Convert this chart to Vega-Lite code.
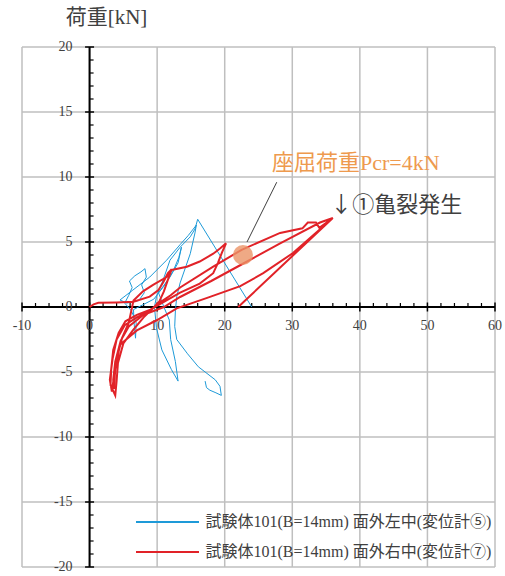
{
  "$schema": "https://vega.github.io/schema/vega-lite/v6.json",
  "width": 473,
  "height": 520,
  "autosize": "none",
  "padding": {"left": 22, "top": 47, "right": 10, "bottom": 9},
  "title": {
    "text": "荷重[kN]",
    "anchor": "start",
    "dx": 53,
    "offset": 12,
    "fontSize": 21,
    "fontWeight": "normal",
    "font": "Liberation Serif, Noto Sans CJK JP",
    "color": "#404040"
  },
  "config": {
    "view": {"stroke": null},
    "font": "Liberation Serif, Noto Sans CJK JP",
    "legend": {
      "orient": "none",
      "legendX": 129.5,
      "legendY": 459,
      "direction": "vertical",
      "symbolType": "M-2.1,0H2.1",
      "symbolSize": 900,
      "symbolStrokeWidth": 2,
      "symbolFillColor": "transparent",
      "labelFontSize": 16,
      "labelFont": "Liberation Serif, Noto Sans CJK JP",
      "labelColor": "#404040",
      "labelLimit": 0,
      "labelOffset": 22,
      "rowPadding": 6,
      "padding": 0
    }
  },
  "datasets": {
    "gauge5": [
      {"i": 1, "x": 24.0, "y": 0.0}, {"i": 2, "x": 16.0, "y": 6.75}, {"i": 3, "x": 15.6, "y": 6.0},
      {"i": 4, "x": 14.9, "y": 5.4}, {"i": 5, "x": 13.4, "y": 4.6}, {"i": 6, "x": 11.9, "y": 3.6},
      {"i": 7, "x": 10.9, "y": 2.1}, {"i": 8, "x": 9.9, "y": 0.8}, {"i": 9, "x": 9.6, "y": 0.0},
      {"i": 10, "x": 9.9, "y": -1.6}, {"i": 11, "x": 10.7, "y": -3.3}, {"i": 12, "x": 12.1, "y": -4.8},
      {"i": 13, "x": 13.1, "y": -5.7}, {"i": 14, "x": 12.7, "y": -4.2}, {"i": 15, "x": 12.0, "y": -2.5},
      {"i": 16, "x": 11.8, "y": -1.0}, {"i": 17, "x": 11.0, "y": 0.0}, {"i": 18, "x": 10.2, "y": 1.1},
      {"i": 19, "x": 11.9, "y": 2.3}, {"i": 20, "x": 13.1, "y": 3.4}, {"i": 21, "x": 13.6, "y": 4.6},
      {"i": 22, "x": 13.2, "y": 3.8}, {"i": 23, "x": 12.4, "y": 2.8}, {"i": 24, "x": 11.0, "y": 1.6},
      {"i": 25, "x": 9.5, "y": 0.6}, {"i": 26, "x": 8.0, "y": 0.2}, {"i": 27, "x": 6.5, "y": -0.2},
      {"i": 28, "x": 6.6, "y": -1.3}, {"i": 29, "x": 6.8, "y": -2.4}, {"i": 30, "x": 6.9, "y": -1.2},
      {"i": 31, "x": 6.2, "y": -0.3}, {"i": 32, "x": 5.2, "y": 0.3}, {"i": 33, "x": 5.8, "y": 0.9},
      {"i": 34, "x": 6.3, "y": 1.5}, {"i": 35, "x": 5.9, "y": 2.0}, {"i": 36, "x": 6.7, "y": 2.4},
      {"i": 37, "x": 7.6, "y": 2.7}, {"i": 38, "x": 8.2, "y": 2.95}, {"i": 39, "x": 8.4, "y": 2.3},
      {"i": 40, "x": 7.7, "y": 1.7}, {"i": 41, "x": 8.1, "y": 1.1}, {"i": 42, "x": 7.3, "y": 0.5},
      {"i": 43, "x": 5.5, "y": 0.3}, {"i": 44, "x": 4.5, "y": 0.54}, {"i": 45, "x": 6.4, "y": 1.3},
      {"i": 46, "x": 8.9, "y": 2.3}, {"i": 47, "x": 11.4, "y": 3.6}, {"i": 48, "x": 13.4, "y": 4.8},
      {"i": 49, "x": 14.6, "y": 5.5}, {"i": 50, "x": 15.8, "y": 6.3}, {"i": 51, "x": 15.6, "y": 5.7},
      {"i": 52, "x": 14.9, "y": 4.1}, {"i": 53, "x": 13.4, "y": 1.85}, {"i": 54, "x": 12.9, "y": 0.8},
      {"i": 55, "x": 12.7, "y": -0.3}, {"i": 56, "x": 12.6, "y": -1.5}, {"i": 57, "x": 12.9, "y": -2.5},
      {"i": 58, "x": 14.5, "y": -3.6}, {"i": 59, "x": 16.1, "y": -4.6}, {"i": 60, "x": 18.6, "y": -5.6},
      {"i": 61, "x": 19.3, "y": -6.1}, {"i": 62, "x": 19.5, "y": -6.8}, {"i": 63, "x": 18.7, "y": -6.6},
      {"i": 64, "x": 17.8, "y": -6.4}, {"i": 65, "x": 17.3, "y": -6.2}, {"i": 66, "x": 17.1, "y": -5.7}
    ],
    "gauge7": [
      {"i": 1, "x": 0.0, "y": 0.0}, {"i": 2, "x": 0.6, "y": 0.2}, {"i": 3, "x": 1.3, "y": 0.32},
      {"i": 4, "x": 4.0, "y": 0.35}, {"i": 5, "x": 6.5, "y": 0.4}, {"i": 6, "x": 8.9, "y": 0.8},
      {"i": 7, "x": 10.2, "y": 1.3}, {"i": 8, "x": 10.9, "y": 1.9}, {"i": 9, "x": 11.6, "y": 2.6},
      {"i": 10, "x": 12.15, "y": 2.9}, {"i": 11, "x": 11.6, "y": 2.1}, {"i": 12, "x": 11.0, "y": 1.2},
      {"i": 13, "x": 10.3, "y": 0.4}, {"i": 14, "x": 9.0, "y": -0.3}, {"i": 15, "x": 7.0, "y": -0.8},
      {"i": 16, "x": 5.2, "y": -1.4}, {"i": 17, "x": 4.0, "y": -2.5}, {"i": 18, "x": 3.4, "y": -4.0},
      {"i": 19, "x": 3.0, "y": -5.6}, {"i": 20, "x": 3.3, "y": -6.5}, {"i": 21, "x": 3.6, "y": -5.4},
      {"i": 22, "x": 4.0, "y": -4.0}, {"i": 23, "x": 4.8, "y": -2.4}, {"i": 24, "x": 5.8, "y": -1.2},
      {"i": 25, "x": 6.5, "y": 0.5}, {"i": 26, "x": 7.9, "y": 1.2}, {"i": 27, "x": 9.4, "y": 1.7},
      {"i": 28, "x": 11.4, "y": 2.3}, {"i": 29, "x": 12.15, "y": 2.85}, {"i": 30, "x": 14.4, "y": 3.1},
      {"i": 31, "x": 16.3, "y": 3.5}, {"i": 32, "x": 18.3, "y": 4.1}, {"i": 33, "x": 19.3, "y": 4.5},
      {"i": 34, "x": 20.2, "y": 4.9}, {"i": 35, "x": 19.6, "y": 4.2}, {"i": 36, "x": 19.0, "y": 3.4},
      {"i": 37, "x": 18.3, "y": 2.6}, {"i": 38, "x": 16.3, "y": 1.8}, {"i": 39, "x": 13.4, "y": 1.1},
      {"i": 40, "x": 11.0, "y": 0.4}, {"i": 41, "x": 9.0, "y": -0.2}, {"i": 42, "x": 7.0, "y": -0.6},
      {"i": 43, "x": 5.3, "y": -1.1}, {"i": 44, "x": 4.3, "y": -2.0}, {"i": 45, "x": 3.5, "y": -3.3},
      {"i": 46, "x": 3.2, "y": -4.8}, {"i": 47, "x": 3.1, "y": -6.0}, {"i": 48, "x": 3.8, "y": -6.8},
      {"i": 49, "x": 4.0, "y": -5.7}, {"i": 50, "x": 4.2, "y": -4.3}, {"i": 51, "x": 5.0, "y": -2.8},
      {"i": 52, "x": 6.4, "y": -1.8}, {"i": 53, "x": 8.0, "y": -0.8}, {"i": 54, "x": 10.0, "y": 0.2},
      {"i": 55, "x": 12.0, "y": 0.9}, {"i": 56, "x": 13.4, "y": 1.5}, {"i": 57, "x": 18.3, "y": 3.1},
      {"i": 58, "x": 22.5, "y": 4.4}, {"i": 59, "x": 28.2, "y": 5.7}, {"i": 60, "x": 31.5, "y": 6.05},
      {"i": 61, "x": 32.3, "y": 6.5}, {"i": 62, "x": 33.5, "y": 6.5}, {"i": 63, "x": 34.0, "y": 6.1},
      {"i": 64, "x": 36.0, "y": 6.85}, {"i": 65, "x": 34.1, "y": 6.5}, {"i": 66, "x": 28.2, "y": 4.9},
      {"i": 67, "x": 23.3, "y": 3.5}, {"i": 68, "x": 18.0, "y": 2.0}, {"i": 69, "x": 13.4, "y": 0.77},
      {"i": 70, "x": 11.0, "y": 0.0}, {"i": 71, "x": 8.0, "y": -0.6}, {"i": 72, "x": 5.8, "y": -1.5},
      {"i": 73, "x": 4.6, "y": -2.6}, {"i": 74, "x": 3.8, "y": -4.2}, {"i": 75, "x": 3.5, "y": -5.6},
      {"i": 76, "x": 3.6, "y": -6.3}, {"i": 77, "x": 3.8, "y": -4.8}, {"i": 78, "x": 4.5, "y": -2.9},
      {"i": 79, "x": 7.0, "y": -1.8}, {"i": 80, "x": 10.0, "y": -1.0}, {"i": 81, "x": 12.9, "y": -0.1},
      {"i": 82, "x": 17.4, "y": 0.7}, {"i": 83, "x": 22.3, "y": 1.6}, {"i": 84, "x": 25.7, "y": 2.6},
      {"i": 85, "x": 30.1, "y": 4.15}, {"i": 86, "x": 36.0, "y": 6.85}, {"i": 87, "x": 22.0, "y": 0.0}
    ],
    "xMajor": [{"v": -10}, {"v": 0}, {"v": 10}, {"v": 20}, {"v": 30}, {"v": 40}, {"v": 50}, {"v": 60}],
    "xMinor": [
      {"v": -8}, {"v": -6}, {"v": -4}, {"v": -2}, {"v": 2}, {"v": 4}, {"v": 6}, {"v": 8},
      {"v": 12}, {"v": 14}, {"v": 16}, {"v": 18}, {"v": 22}, {"v": 24}, {"v": 26}, {"v": 28},
      {"v": 32}, {"v": 34}, {"v": 36}, {"v": 38}, {"v": 42}, {"v": 44}, {"v": 46}, {"v": 48},
      {"v": 52}, {"v": 54}, {"v": 56}, {"v": 58}
    ],
    "yMajor": [{"v": -20}, {"v": -15}, {"v": -10}, {"v": -5}, {"v": 0}, {"v": 5}, {"v": 10}, {"v": 15}, {"v": 20}],
    "yMinor": [
      {"v": -19}, {"v": -18}, {"v": -17}, {"v": -16}, {"v": -14}, {"v": -13}, {"v": -12}, {"v": -11},
      {"v": -9}, {"v": -8}, {"v": -7}, {"v": -6}, {"v": -4}, {"v": -3}, {"v": -2}, {"v": -1},
      {"v": 1}, {"v": 2}, {"v": 3}, {"v": 4}, {"v": 6}, {"v": 7}, {"v": 8}, {"v": 9},
      {"v": 11}, {"v": 12}, {"v": 13}, {"v": 14}, {"v": 16}, {"v": 17}, {"v": 18}, {"v": 19}
    ],
    "buckling": [{"x": 22.7, "y": 4.0}]
  },
  "layer": [
    {
      "data": {"name": "xMajor"},
      "mark": {"type": "rule", "color": "#BFBFBF", "strokeWidth": 1.5},
      "encoding": {
        "x": {"field": "v", "type": "quantitative", "scale": {"domain": [-10, 60], "nice": false, "zero": false}, "axis": null}
      }
    },
    {
      "data": {"name": "yMajor"},
      "mark": {"type": "rule", "color": "#BFBFBF", "strokeWidth": 1.5},
      "encoding": {
        "y": {"field": "v", "type": "quantitative", "scale": {"domain": [-20, 20], "nice": false, "zero": false}, "axis": null}
      }
    },
    {
      "data": {"values": [{}]},
      "mark": {"type": "rule", "color": "#000000", "strokeWidth": 2},
      "encoding": {"x": {"datum": 0, "type": "quantitative"}}
    },
    {
      "data": {"values": [{}]},
      "mark": {"type": "rule", "color": "#000000", "strokeWidth": 2},
      "encoding": {"y": {"datum": 0, "type": "quantitative"}}
    },
    {
      "data": {"name": "xMajor"},
      "mark": {"type": "rule", "color": "#000000", "strokeWidth": 1.5, "yOffset": -4.5, "y2Offset": 4.5},
      "encoding": {
        "x": {"field": "v", "type": "quantitative"},
        "y": {"datum": 0, "type": "quantitative"},
        "y2": {"datum": 0}
      }
    },
    {
      "data": {"name": "xMinor"},
      "mark": {"type": "rule", "color": "#000000", "strokeWidth": 1.2, "yOffset": -4, "y2Offset": 0},
      "encoding": {
        "x": {"field": "v", "type": "quantitative"},
        "y": {"datum": 0, "type": "quantitative"},
        "y2": {"datum": 0}
      }
    },
    {
      "data": {"name": "yMajor"},
      "mark": {"type": "rule", "color": "#000000", "strokeWidth": 1.5, "xOffset": -4.5, "x2Offset": 4.5},
      "encoding": {
        "y": {"field": "v", "type": "quantitative"},
        "x": {"datum": 0, "type": "quantitative"},
        "x2": {"datum": 0}
      }
    },
    {
      "data": {"name": "yMinor"},
      "mark": {"type": "rule", "color": "#000000", "strokeWidth": 1.2, "xOffset": 0, "x2Offset": 4},
      "encoding": {
        "y": {"field": "v", "type": "quantitative"},
        "x": {"datum": 0, "type": "quantitative"},
        "x2": {"datum": 0}
      }
    },
    {
      "data": {"name": "xMajor"},
      "mark": {"type": "text", "fontSize": 14, "color": "#404040", "align": "center", "baseline": "middle", "dy": 19},
      "encoding": {
        "x": {"field": "v", "type": "quantitative"},
        "y": {"datum": 0, "type": "quantitative"},
        "text": {"field": "v", "type": "nominal"}
      }
    },
    {
      "data": {"name": "yMajor"},
      "mark": {"type": "text", "fontSize": 14, "color": "#404040", "align": "right", "baseline": "middle", "dx": -17},
      "encoding": {
        "y": {"field": "v", "type": "quantitative"},
        "x": {"datum": 0, "type": "quantitative"},
        "text": {"field": "v", "type": "nominal"}
      }
    },
    {
      "data": {"name": "gauge5"},
      "transform": [{"calculate": "'試験体101(B=14mm) 面外左中(変位計⑤)'", "as": "series"}],
      "mark": {"type": "line", "strokeWidth": 1, "interpolate": "linear"},
      "encoding": {
        "x": {"field": "x", "type": "quantitative"},
        "y": {"field": "y", "type": "quantitative"},
        "order": {"field": "i", "type": "quantitative"},
        "color": {
          "field": "series",
          "type": "nominal",
          "scale": {
            "domain": ["試験体101(B=14mm) 面外左中(変位計⑤)", "試験体101(B=14mm) 面外右中(変位計⑦)"],
            "range": ["#1E9AD8", "#E12228"]
          },
          "legend": {"title": null}
        }
      }
    },
    {
      "data": {"name": "gauge7"},
      "transform": [{"calculate": "'試験体101(B=14mm) 面外右中(変位計⑦)'", "as": "series"}],
      "mark": {"type": "line", "strokeWidth": 2, "interpolate": "linear"},
      "encoding": {
        "x": {"field": "x", "type": "quantitative"},
        "y": {"field": "y", "type": "quantitative"},
        "order": {"field": "i", "type": "quantitative"},
        "color": {"field": "series", "type": "nominal"}
      }
    },
    {
      "data": {"name": "buckling"},
      "mark": {"type": "point", "filled": true, "size": 400, "color": "#EB9466", "opacity": 0.8},
      "encoding": {
        "x": {"field": "x", "type": "quantitative"},
        "y": {"field": "y", "type": "quantitative"}
      }
    },
    {
      "data": {"values": [{}]},
      "mark": {"type": "rule", "color": "#404040", "strokeWidth": 1},
      "encoding": {
        "x": {"datum": 23.3, "type": "quantitative"},
        "y": {"datum": 5.0, "type": "quantitative"},
        "x2": {"datum": 27.7},
        "y2": {"datum": 9.6}
      }
    },
    {
      "data": {"values": [{}]},
      "mark": {"type": "text", "fontSize": 22, "color": "#EE9A4E", "align": "left", "baseline": "middle"},
      "encoding": {
        "x": {"datum": 27.0, "type": "quantitative"},
        "y": {"datum": 11.1, "type": "quantitative"},
        "text": {"value": "座屈荷重Pcr=4kN"}
      }
    },
    {
      "data": {"values": [{}]},
      "mark": {"type": "text", "fontSize": 22, "font": "Noto Sans CJK JP", "color": "#404040", "align": "left", "baseline": "middle"},
      "encoding": {
        "x": {"datum": 35.6, "type": "quantitative"},
        "y": {"datum": 7.85, "type": "quantitative"},
        "text": {"value": "↓①亀裂発生"}
      }
    }
  ]
}
